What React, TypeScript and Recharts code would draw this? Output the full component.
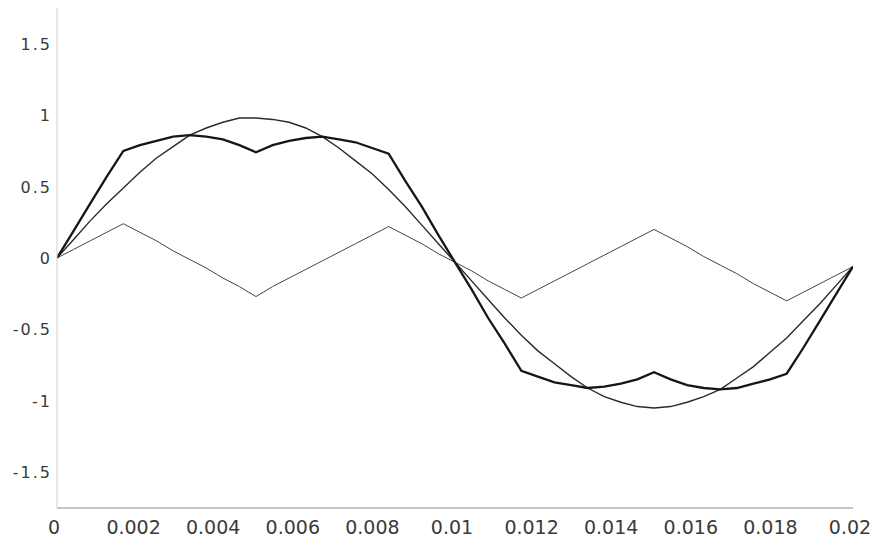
import React from "react";
import { LineChart, Line, XAxis, YAxis } from "recharts";

const time = [
  0, 0.000417, 0.000833, 0.00125, 0.001667, 0.002083, 0.0025, 0.002917, 0.003333, 0.00375,
  0.004167, 0.004583, 0.005, 0.005417, 0.005833, 0.00625, 0.006667, 0.007083, 0.0075, 0.007917,
  0.008333, 0.00875, 0.009167, 0.009583, 0.01, 0.010417, 0.010833, 0.01125, 0.011667, 0.012083,
  0.0125, 0.012917, 0.013333, 0.01375, 0.014167, 0.014583, 0.015, 0.015417, 0.015833, 0.01625,
  0.016667, 0.017083, 0.0175, 0.017917, 0.018333, 0.01875, 0.019167, 0.019583, 0.02,
];

const sineWave = [
  0, 0.13, 0.26, 0.38, 0.49, 0.6, 0.7, 0.78, 0.86, 0.91,
  0.95, 0.98, 0.98, 0.97, 0.95, 0.91, 0.85, 0.77, 0.68, 0.59,
  0.48, 0.36, 0.23, 0.1, -0.03, -0.16, -0.29, -0.42, -0.54, -0.65,
  -0.74, -0.83, -0.91, -0.97, -1.01, -1.04, -1.05, -1.04, -1.01, -0.97,
  -0.92, -0.84, -0.76, -0.66, -0.56, -0.44, -0.32, -0.19, -0.06,
];

const modulated = [
  0, 0.19, 0.38, 0.57, 0.75, 0.79, 0.82, 0.85, 0.86, 0.85,
  0.83, 0.79, 0.74, 0.79, 0.82, 0.84, 0.85, 0.83, 0.81, 0.77,
  0.73, 0.54, 0.36, 0.16, -0.03, -0.22, -0.42, -0.6, -0.79, -0.83,
  -0.87, -0.89, -0.91, -0.9, -0.88, -0.85, -0.8, -0.85, -0.89, -0.91,
  -0.92, -0.91, -0.88, -0.85, -0.81, -0.63, -0.44, -0.25, -0.06,
];

const triangle = [
  0, 0.06, 0.12, 0.18, 0.24, 0.18, 0.12, 0.05, -0.01, -0.07,
  -0.14, -0.2, -0.27, -0.2, -0.14, -0.08, -0.02, 0.04, 0.1, 0.16,
  0.22, 0.16, 0.1, 0.03, -0.03, -0.09, -0.16, -0.22, -0.28, -0.22,
  -0.16, -0.1, -0.04, 0.02, 0.08, 0.14, 0.2, 0.14, 0.08, 0.01,
  -0.05, -0.11, -0.18, -0.24, -0.3, -0.24, -0.18, -0.12, -0.06,
];

const xTicks = [0, 0.002, 0.004, 0.006, 0.008, 0.01, 0.012, 0.014, 0.016, 0.018, 0.02];
const xTickLabels = ["0", "0.002", "0.004", "0.006", "0.008", "0.01", "0.012", "0.014", "0.016", "0.018", "0.02"];
const yTicks = [-1.5, -1, -0.5, 0, 0.5, 1, 1.5];
const yTickLabels = ["-1.5", "-1", "-0.5", "0", "0.5", "1", "1.5"];

const data = time.map((t, i) => ({
  t,
  sine: sineWave[i],
  mod: modulated[i],
  tri: triangle[i],
}));

const XTick = (props: any) => {
  const { x, y, payload } = props;
  const i = xTicks.indexOf(payload.value);
  const label = i >= 0 ? xTickLabels[i] : String(payload.value);
  return (
    <text
      x={x - 3}
      y={y}
      dy={18}
      textAnchor="middle"
      fill="#3a3a3a"
      fontFamily="'DejaVu Sans', sans-serif"
      fontSize={19}
    >
      {label}
    </text>
  );
};

const YTick = (props: any) => {
  const { x, y, payload } = props;
  const i = yTicks.indexOf(payload.value);
  const label = i >= 0 ? yTickLabels[i] : String(payload.value);
  return (
    <text
      x={x + 3}
      y={y}
      dy={6}
      textAnchor="end"
      fill="#3a3a3a"
      fontFamily="'DejaVu Sans', sans-serif"
      fontSize={16}
      letterSpacing={2}
    >
      {label}
    </text>
  );
};

export default function App() {
  return (
    <div style={{ position: "absolute", left: 0, top: 0, width: 884, height: 547, background: "#fff" }}>
      <LineChart
        width={884}
        height={547}
        data={data}
        margin={{ top: 8, right: 31, bottom: 0, left: 0 }}
      >
        <XAxis
          dataKey="t"
          type="number"
          domain={[0, 0.02]}
          ticks={xTicks}
          tick={<XTick />}
          tickLine={false}
          height={39}
          axisLine={{ stroke: "#8a8a8a", strokeWidth: 1 }}
          interval={0}
          allowDataOverflow
        />
        <XAxis
          xAxisId="top"
          orientation="top"
          dataKey="t"
          type="number"
          domain={[0, 0.02]}
          tick={false}
          tickLine={false}
          height={0}
          axisLine={{ stroke: "#a0a0a0", strokeWidth: 1 }}
        />
        <YAxis
          type="number"
          domain={[-1.75, 1.75]}
          ticks={yTicks}
          tick={<YTick />}
          tickLine={false}
          width={57}
          axisLine={{ stroke: "#cfcfcf", strokeWidth: 1 }}
          interval={0}
          allowDataOverflow
        />
        <YAxis
          yAxisId="right"
          orientation="right"
          type="number"
          domain={[-1.75, 1.75]}
          tick={false}
          tickLine={false}
          width={0}
          axisLine={{ stroke: "#c4c4c4", strokeWidth: 1 }}
        />
        <Line
          type="linear"
          dataKey="tri"
          stroke="#444444"
          strokeWidth={1}
          dot={false}
          isAnimationActive={false}
        />
        <Line
          type="linear"
          dataKey="sine"
          stroke="#2a2a2a"
          strokeWidth={1.4}
          dot={false}
          isAnimationActive={false}
        />
        <Line
          type="linear"
          dataKey="mod"
          stroke="#161616"
          strokeWidth={2.3}
          dot={false}
          isAnimationActive={false}
        />
      </LineChart>
    </div>
  );
}
